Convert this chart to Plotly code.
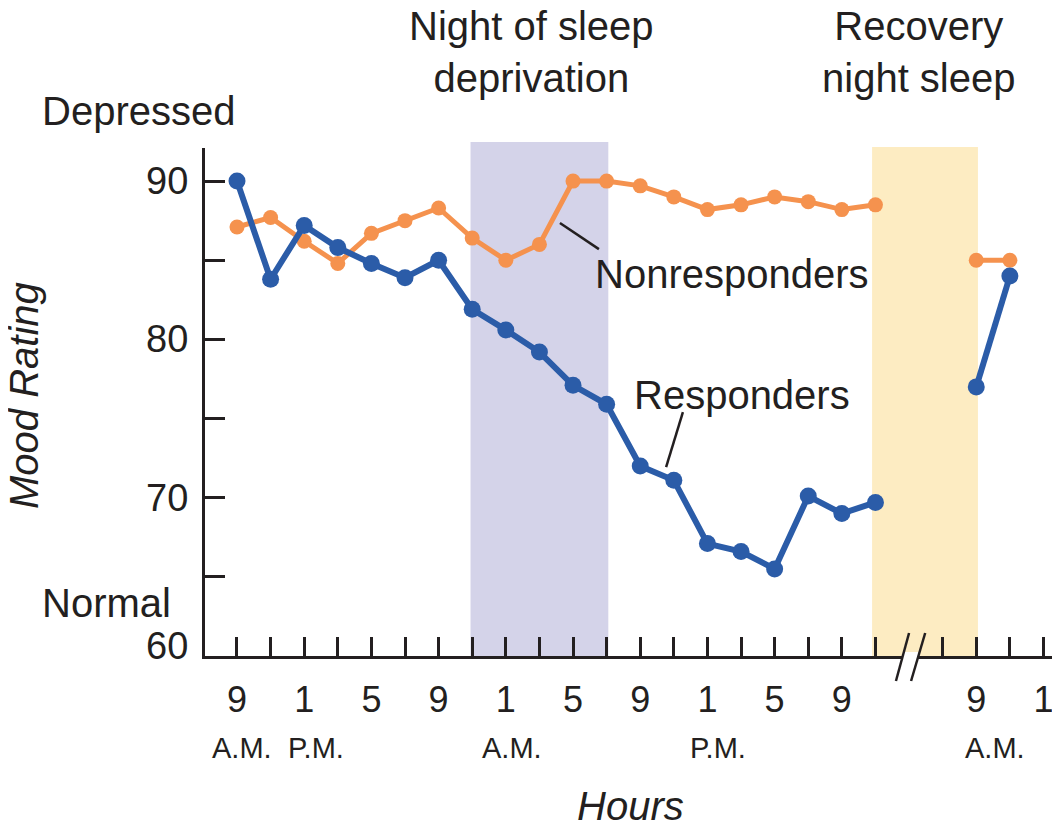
import plotly.graph_objects as go

# x positions are 2-hour slots starting at 9 A.M.; slots 20-21 fall in the break
slots = list(range(24))
responders = [90.0, 83.8, 87.2, 85.8, 84.8, 83.9, 85.0, 81.9, 80.6, 79.2, 77.1, 75.9,
              72.0, 71.1, 67.1, 66.6, 65.5, 70.1, 69.0, 69.7, None, None, 77.0, 84.0]
nonresponders = [87.1, 87.7, 86.2, 84.8, 86.7, 87.5, 88.3, 86.4, 85.0, 86.0, 90.0, 90.0,
                 89.7, 89.0, 88.2, 88.5, 89.0, 88.7, 88.2, 88.5, None, None, 85.0, 85.0]

tick_slots = [s for s in range(25) if s != 20]
hour_labels = {0: "9", 2: "1", 4: "5", 6: "9", 8: "1", 10: "5", 12: "9", 14: "1",
               16: "5", 18: "9", 22: "9", 24: "1"}
period_labels = ["A.M.", "P.M.", "A.M.", "P.M.", "A.M."]
period_slots = [0.15, 2.35, 8.18, 14.3, 22.55]

deprivation_band = (6.95, 11.05)
recovery_band = (18.9, 22.05)

y_ticks = [60, 65, 70, 75, 80, 85, 90]
y_label_vals = [60, 70, 80, 90]

INK = "#231f20"
BLUE = "#2b5ca8"
ORANGE = "#f5924e"
FONT = "Liberation Sans, Arial, sans-serif"

W, H = 1060, 825
PAGE_OFFSET = 8  # body margin of the html page


def px(sx):
    return (sx - PAGE_OFFSET) / W


def py(sy):
    return 1 - (sy - PAGE_OFFSET) / H


fig = go.Figure()

fig.add_trace(go.Scatter(x=slots, y=nonresponders, mode="lines+markers",
                         line=dict(color=ORANGE, width=5), marker=dict(color=ORANGE, size=15),
                         connectgaps=False, name="Nonresponders"))
fig.add_trace(go.Scatter(x=slots, y=responders, mode="lines+markers",
                         line=dict(color=BLUE, width=6), marker=dict(color=BLUE, size=17),
                         connectgaps=False, name="Responders"))

shapes = [
    dict(type="rect", xref="x", yref="paper", x0=deprivation_band[0], x1=deprivation_band[1],
         y0=py(656), y1=py(142), fillcolor="#d4d3e9", line_width=0, layer="below"),
    dict(type="rect", xref="x", yref="paper", x0=recovery_band[0], x1=recovery_band[1],
         y0=py(656), y1=py(147), fillcolor="#fdecc2", line_width=0, layer="below"),
    # leader lines
    dict(type="line", xref="x", yref="y", x0=9.61, y0=87.35, x1=10.77, y1=85.7,
         line=dict(color=INK, width=2.5)),
    dict(type="line", xref="x", yref="y", x0=13.27, y0=75.41, x1=12.77, y1=71.93,
         line=dict(color=INK, width=2.5)),
    # axis break
    dict(type="rect", xref="x", yref="paper", x0=19.82, x1=20.27, y0=py(660), y1=py(652),
         fillcolor="white", line_width=0, layer="above"),
    dict(type="line", xref="x", yref="paper", x0=19.61, y0=py(681), x1=20.0, y1=py(633),
         line=dict(color=INK, width=2.5)),
    dict(type="line", xref="x", yref="paper", x0=20.06, y0=py(681), x1=20.48, y1=py(633),
         line=dict(color=INK, width=2.5)),
]

big = dict(family=FONT, size=40, color=INK)


def note(text, x, y, xref="paper", yref="paper", **kw):
    d = dict(text=text, x=x, y=y, xref=xref, yref=yref, showarrow=False,
             xanchor="center", yanchor="middle", font=big)
    d.update(kw)
    return d


annotations = [
    note("Nonresponders", 14.73, 84.1, "x", "y"),
    note("Responders", 15.03, 76.5, "x", "y"),
    note("Night of sleep<br>deprivation", px(531), py(52)),
    note("Recovery<br>night sleep", px(918), py(52)),
    note("Depressed", px(40), py(111), xanchor="left"),
    note("Normal", px(40), py(603), xanchor="left"),
    note("<i>Mood Rating</i>", px(24), py(396), textangle=-90),
    note("<i>Hours</i>", px(630), py(806)),
]
# y tick labels sit close to the axis; the bottom one is raised off the x axis
for v in y_label_vals:
    annotations.append(note(str(v), px(190), v, "paper", "y", xanchor="right",
                            yshift=10 if v == 60 else 0,
                            font=dict(family=FONT, size=38, color=INK)))
for lab, s in zip(period_labels, period_slots):
    annotations.append(note(lab, s, py(748), "x", "paper",
                            font=dict(family=FONT, size=29, color=INK)))

fig.update_layout(
    width=W, height=H, autosize=False,
    margin=dict(l=0, r=0, t=0, b=0),
    paper_bgcolor="white", plot_bgcolor="rgba(0,0,0,0)",
    showlegend=False,
    shapes=shapes, annotations=annotations,
    xaxis=dict(domain=[px(205), 1], range=[-0.952, 24.73], showgrid=False, zeroline=False,
               automargin=False,
               showline=True, linecolor=INK, linewidth=3,
               tickmode="array", tickvals=tick_slots,
               ticktext=[hour_labels.get(s, "") for s in tick_slots],
               ticks="inside", ticklen=19, tickwidth=2.5, tickcolor=INK,
               ticklabelstandoff=10,
               tickfont=dict(family=FONT, size=36, color=INK)),
    yaxis=dict(domain=[py(656), py(148)], range=[60, 92.09], showgrid=False, zeroline=False,
               automargin=False,
               showline=True, linecolor=INK, linewidth=3,
               tickmode="array", tickvals=y_ticks, showticklabels=False,
               ticks="inside", ticklen=20, tickwidth=2.5, tickcolor=INK),
)

fig.write_html("out.html")
